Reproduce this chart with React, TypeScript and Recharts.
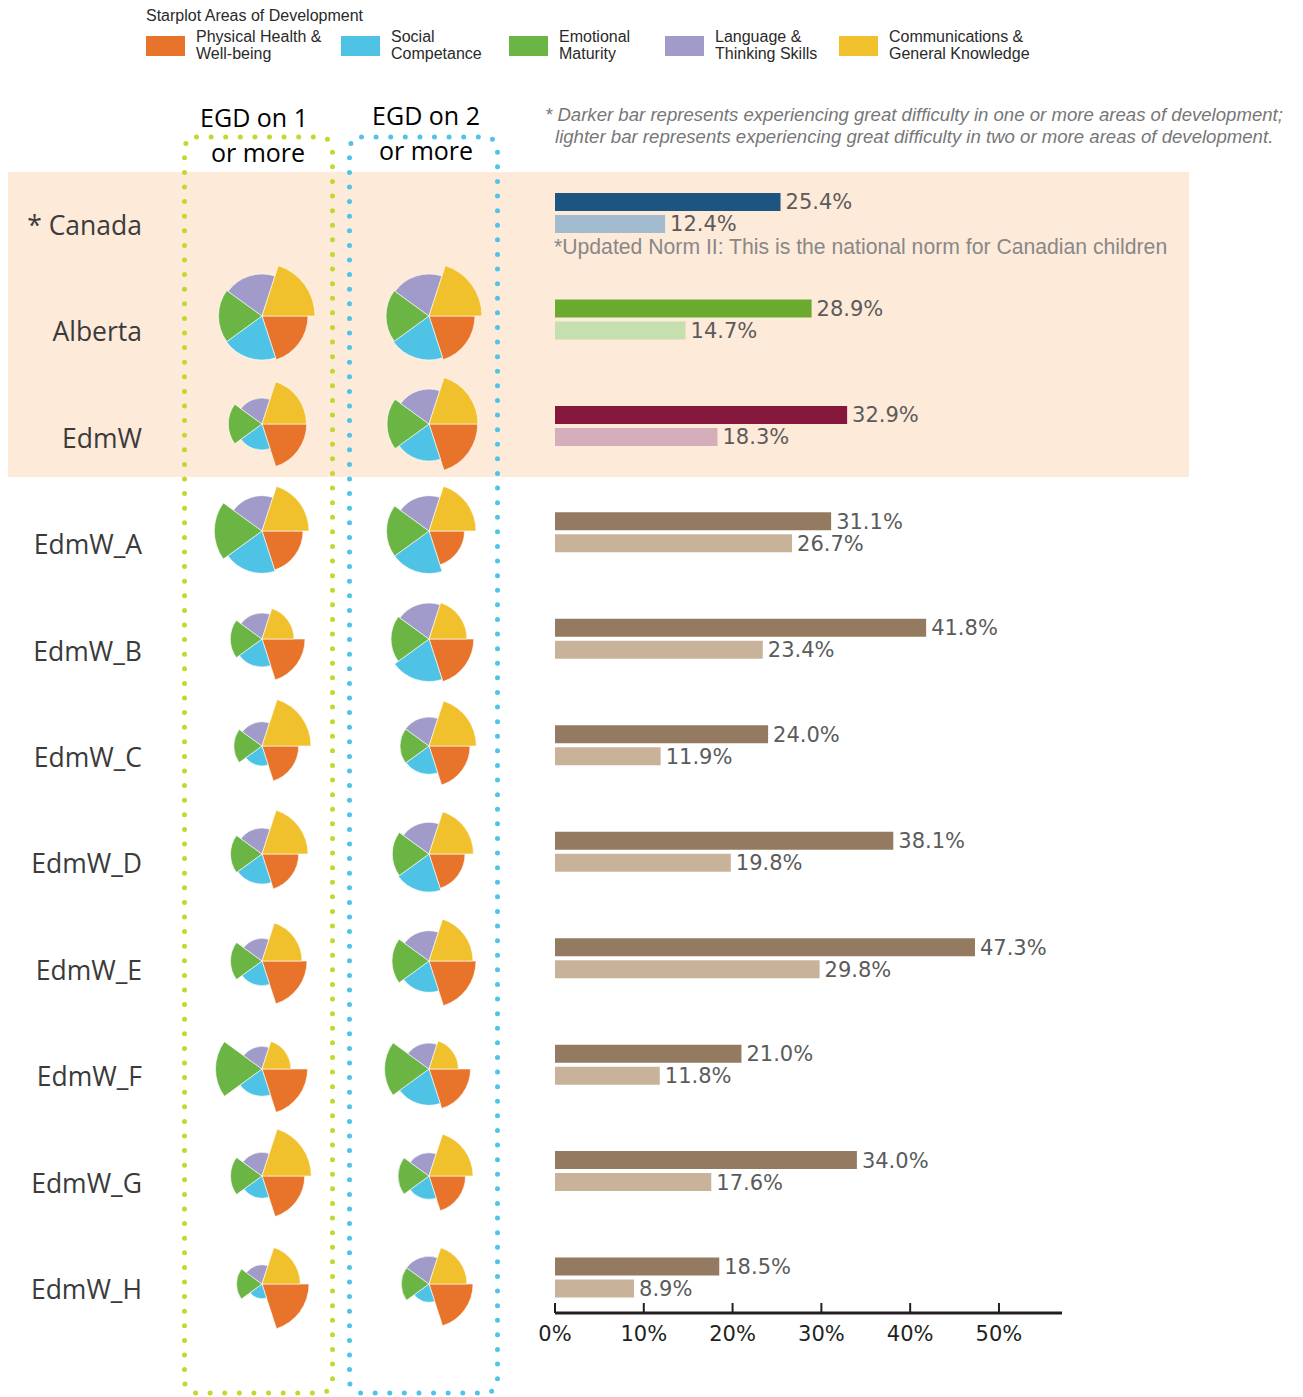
import React from 'react';
import { BarChart, Bar, XAxis, YAxis, LabelList, Cell, PieChart, Pie } from 'recharts';

// ---------- DATA ----------
const regions = ['* Canada', 'Alberta', 'EdmW', 'EdmW_A', 'EdmW_B', 'EdmW_C', 'EdmW_D', 'EdmW_E', 'EdmW_F', 'EdmW_G', 'EdmW_H'];
const egdOneOrMore = [25.4, 28.9, 32.9, 31.1, 41.8, 24.0, 38.1, 47.3, 21.0, 34.0, 18.5];
const egdTwoOrMore = [12.4, 14.7, 18.3, 26.7, 23.4, 11.9, 19.8, 29.8, 11.8, 17.6, 8.9];
const xTicks = [0, 10, 20, 30, 40, 50];

const domainNames = [
  'Physical Health & Well-being',
  'Social Competance',
  'Emotional Maturity',
  'Language & Thinking Skills',
  'Communications & General Knowledge',
];
const legendLines = [
  ['Physical Health &', 'Well-being'],
  ['Social', 'Competance'],
  ['Emotional', 'Maturity'],
  ['Language &', 'Thinking Skills'],
  ['Communications &', 'General Knowledge'],
];

// starplot scores per region (order: physical, social, emotional, language, communication)
const starRegions = ['Alberta', 'EdmW', 'EdmW_A', 'EdmW_B', 'EdmW_C', 'EdmW_D', 'EdmW_E', 'EdmW_F', 'EdmW_G', 'EdmW_H'];
const starOneOrMore = [
  [46, 44, 43.5, 42, 53],
  [44.7, 26, 33.7, 26, 44.5],
  [41, 42.3, 47.7, 35.3, 47],
  [43, 28, 31.7, 26, 32],
  [36.7, 20, 28.2, 24.3, 49],
  [36.7, 30, 31.5, 26, 46],
  [45, 24.7, 31.5, 22.7, 40],
  [45.6, 27.3, 46.5, 22.7, 29],
  [42.7, 22.3, 31.5, 23.7, 49.3],
  [47, 14.7, 25.5, 19.3, 38.3],
];
const starTwoOrMore = [
  [46, 44, 43, 42, 53],
  [48.7, 37, 42, 35, 49],
  [35.5, 42.5, 42.5, 35.3, 47],
  [44.8, 42.5, 38, 36, 38],
  [41, 28.3, 29, 29, 47.3],
  [36, 38, 36.7, 31.7, 44.5],
  [47, 31.3, 37, 30.3, 44],
  [41.5, 36.3, 44.5, 26, 29.5],
  [36.5, 23.3, 31, 23.3, 44],
  [44, 18.3, 27.7, 27.7, 38],
];

// ---------- STYLES ----------
const domainColors = ['#e7742a', '#4ec3e6', '#6bb545', '#a09bc8', '#f1c12d'];
const darkColors = ['#1b5580', '#6aab2f', '#84173b', '#937a60', '#937a60', '#937a60', '#937a60', '#937a60', '#937a60', '#937a60', '#937a60'];
const lightColors = ['#a3bbcf', '#c6dfae', '#d4aebb', '#c8b39a', '#c8b39a', '#c8b39a', '#c8b39a', '#c8b39a', '#c8b39a', '#c8b39a', '#c8b39a'];

const rows = regions.map((r, i) => ({ region: r, one: egdOneOrMore[i], two: egdTwoOrMore[i] }));
const fmt = (v: any) => `${Number(v).toFixed(1)}%`;

const AxisTick = (props: any) => {
  const { x, y, payload } = props;
  return (
    <g>
      <line x1={x} x2={x} y1={y - 10} y2={y} stroke="#231f20" strokeWidth={2} />
      <text x={x} y={y + 21} textAnchor="middle" dominantBaseline="central" fill="#231f20" fontSize={21} fontFamily="DejaVu Sans">
        {`${payload.value}%`}
      </text>
    </g>
  );
};

const RowLabel = (props: any) => {
  const { y, payload } = props;
  return (
    <text x={142} y={y + 11.5} textAnchor="end" dominantBaseline="central" fill="#3b3b3b" fontSize={26.5} fontFamily="Open Sans">
      {payload.value}
    </text>
  );
};

const StarPlot = ({ values, cx, cy }: { values: number[]; cx: number; cy: number }) => {
  const size = 124;
  return (
    <div style={{ position: 'absolute', left: cx - size / 2, top: cy - size / 2, width: size, height: size }}>
      <PieChart width={size} height={size} margin={{ top: 0, right: 0, bottom: 0, left: 0 }}>
        {values.map((v, d) => (
          <Pie
            key={d}
            data={[{ name: domainNames[d], value: 1 }]}
            dataKey="value"
            cx="50%"
            cy="50%"
            startAngle={(4 - d) * 72}
            endAngle={(5 - d) * 72}
            innerRadius={0}
            outerRadius={v}
            fill={domainColors[d]}
            stroke="#ffffff"
            strokeWidth={0.6}
            isAnimationActive={false}
          />
        ))}
      </PieChart>
    </div>
  );
};

const abs = (left: number, top: number, extra: React.CSSProperties = {}): React.CSSProperties => ({
  position: 'absolute',
  left,
  top,
  whiteSpace: 'nowrap',
  ...extra,
});

export default function App() {
  const legendX = [146, 341, 509, 665, 839];
  return (
    <div style={{ position: 'absolute', left: 0, top: 0, width: 1303, height: 1397, background: '#ffffff', overflow: 'hidden' }}>
      {/* peach band */}
      <div style={{ position: 'absolute', left: 8, top: 172, width: 1181, height: 305, background: '#feead9' }} />

      {/* legend */}
      <div style={abs(146, 7, { fontFamily: 'Liberation Sans', fontSize: 16, lineHeight: '18px', color: '#2a2a2a' })}>
        Starplot Areas of Development
      </div>
      {legendLines.map((ls, i) => (
        <React.Fragment key={i}>
          <div style={abs(legendX[i], 36, { width: 39, height: 20, background: domainColors[i] })} />
          <div style={abs(legendX[i] + 50, 28, { fontFamily: 'Liberation Sans', fontSize: 16, lineHeight: '17px', color: '#2a2a2a' })}>
            {ls[0]}
            <br />
            {ls[1]}
          </div>
        </React.Fragment>
      ))}

      {/* column headers */}
      {[
        ['EGD on 1', 254, 117],
        ['or more', 258, 152],
        ['EGD on 2', 426, 115],
        ['or more', 426, 150],
      ].map(([t, x, y], i) => (
        <div
          key={i}
          style={abs(x as number, y as number, {
            transform: 'translate(-50%, -50%)',
            fontFamily: 'Open Sans',
            fontSize: 25,
            lineHeight: '30px',
            color: '#000',
          })}
        >
          {t}
        </div>
      ))}

      {/* notes */}
      <div style={abs(545, 104, { fontFamily: 'Liberation Sans', fontStyle: 'italic', fontSize: 18.6, lineHeight: '22px', color: '#777' })}>
        * Darker bar represents experiencing great difficulty in one or more areas of development;
      </div>
      <div style={abs(555, 126, { fontFamily: 'Liberation Sans', fontStyle: 'italic', fontSize: 18.6, lineHeight: '22px', color: '#777' })}>
        lighter bar represents experiencing great difficulty in two or more areas of development.
      </div>

      {/* dotted boxes */}
      <svg width={1303} height={1397} style={{ position: 'absolute', left: 0, top: 0 }}>
        <rect x={184.5} y={137} width={148} height={1256} rx={12} fill="none" stroke="#c2d82e" strokeWidth={5} strokeLinecap="round" strokeDasharray="0 14.6" />
        <rect x={349.5} y={137} width={148} height={1256} rx={12} fill="none" stroke="#4fc3e8" strokeWidth={5} strokeLinecap="round" strokeDasharray="0 14.6" />
      </svg>

      {/* bars */}
      <div style={{ position: 'absolute', left: 0, top: 0 }}>
        <BarChart
          layout="vertical"
          width={1303}
          height={1397}
          data={rows}
          margin={{ top: 160, right: 241, bottom: 39, left: 495 }}
          barSize={18}
          barGap={4}
          barCategoryGap={0}
        >
          <XAxis
            type="number"
            domain={[0, 57.1]}
            ticks={xTicks}
            allowDataOverflow
            height={45}
            axisLine={{ stroke: '#231f20', strokeWidth: 3 }}
            tickLine={false}
            tickSize={0}
            tickMargin={0}
            tick={<AxisTick />}
            interval={0}
          />
          <YAxis
            type="category"
            dataKey="region"
            width={60}
            axisLine={false}
            tickLine={false}
            padding={{ top: 0, bottom: -18 }}
            tick={<RowLabel />}
            interval={0}
          />
          <Bar dataKey="one" isAnimationActive={false}>
            {rows.map((_, i) => (
              <Cell key={i} fill={darkColors[i]} />
            ))}
            <LabelList dataKey="one" position="right" offset={5} formatter={fmt} fill="#5b5b5b" fontSize={21} fontFamily="DejaVu Sans" />
          </Bar>
          <Bar dataKey="two" isAnimationActive={false}>
            {rows.map((_, i) => (
              <Cell key={i} fill={lightColors[i]} />
            ))}
            <LabelList dataKey="two" position="right" offset={5} formatter={fmt} fill="#5b5b5b" fontSize={21} fontFamily="DejaVu Sans" />
          </Bar>
        </BarChart>
      </div>

      {/* Canada note */}
      <div style={abs(554, 235, { fontFamily: 'Liberation Sans', fontSize: 21.2, lineHeight: '24px', color: '#888' })}>
        *Updated Norm II: This is the national norm for Canadian children
      </div>

      {/* starplots */}
      {starRegions.map((r, i) => (
        <React.Fragment key={r}>
          <StarPlot values={starOneOrMore[i]} cx={261.5} cy={316 + i * 107.5} />
          <StarPlot values={starTwoOrMore[i]} cx={428.5} cy={316 + i * 107.5} />
        </React.Fragment>
      ))}
    </div>
  );
}
